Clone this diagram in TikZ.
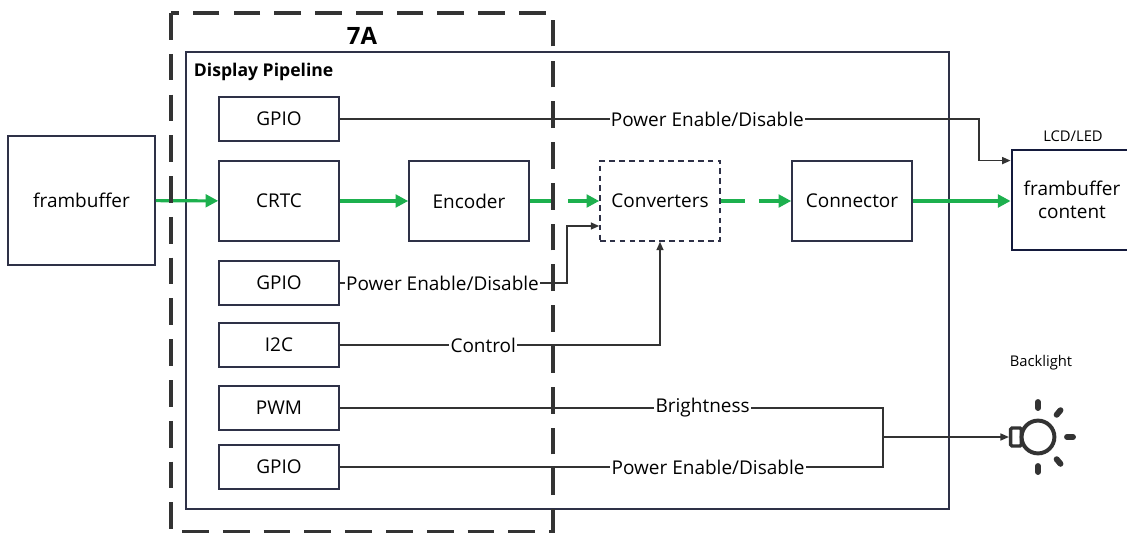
\documentclass[tikz,border=0pt]{standalone}
\usepackage{fontspec}
\setmainfont{Open Sans}
\usepackage{tikz}
\usetikzlibrary{positioning,calc,arrows.meta}
\definecolor{boxline}{HTML}{2E3147}
\definecolor{navybox}{HTML}{141A3C}
\definecolor{flowgreen}{HTML}{1DB04E}
\definecolor{wirecol}{HTML}{333333}

\begin{document}
\begin{tikzpicture}[x=0.025cm, y=-0.025cm,
  every node/.style={font=\fontsize{13.5}{16}\selectfont},
  block/.style={draw=boxline, line width=1.1pt, minimum width=3cm, minimum height=1.1cm, inner sep=0pt},
  tall/.style={block, minimum height=2cm},
  flow/.style={draw=flowgreen, line width=2.2pt, -{Triangle[length=9pt,width=9pt]}},
  flowdash/.style={flow, dash pattern=on 17pt off 10pt on 40pt off 0pt},
  wire/.style={draw=wirecol, line width=1pt},
  sig/.style={wire, -{Triangle[length=6pt,width=5pt]}},
  lbl/.style={fill=white, inner sep=1pt},
  small/.style={font=\fontsize{10.5}{12}\selectfont},
  ray/.style={draw=wirecol, line width=4.2pt, line cap=round}]

  \useasboundingbox (0,0) rectangle (1127,533);

  % outer pipeline box
  \draw[boxline, line width=1.1pt] (186,52) rectangle (949,509);
  \node[font=\bfseries\fontsize{12.5}{15}\selectfont, anchor=west] (dp) at (189,72) {Display Pipeline};

  \node[block, minimum width=3.675cm, minimum height=3.225cm] (fb) at (81.5,200.5) {frambuffer};
  \node[block] (gpioa) at (279,119) {GPIO};
  \node[tall] (crtc) at (279,201) {CRTC};
  \node[tall] (enc) at (469,201) {Encoder};
  \node[tall, dash pattern=on 4pt off 3pt] (conv) at (660,201) {Converters};
  \node[tall] (conn) at (852,201) {Connector};
  \node[block] (gpiob) at (279,283) {GPIO};
  \node[block] (i2c) at (279,345) {I2C};
  \node[block] (pwm) at (279,408) {PWM};
  \node[block] (gpioc) at (279,467) {GPIO};

  \node[draw=navybox, line width=2pt, minimum width=3cm, minimum height=2.5cm, align=center] (lcd) at (1072,200) {frambuffer\\content};
  \node[small] (lcdlbl) at (1073,136) {LCD/LED};
  \node[small] (bllbl) at (1041,363) {Backlight};

  % backlight bulb
  \node[draw=wirecol, line width=2.4pt, rounded corners=1pt, minimum width=0.27cm, minimum height=0.45cm, inner sep=0pt] (bulbbase) at (1016,437) {};
  \node[circle, draw=wirecol, fill=white, line width=2.8pt, minimum size=0.82cm, inner sep=0pt] (bulb) at (1038,437) {};
  \foreach \a in {90,50,0,-50,-90}
    \draw[ray] ($(bulb)+(\a:29)$) -- ($(bulb)+(\a:35)$);

  % video path
  \draw[flow] (fb) -- (crtc);
  \draw[flow] (crtc) -- (enc);
  \draw[flowdash] (enc) -- (conv);
  \draw[flowdash] (conv) -- (conn);
  \draw[flow] (conn.east) -- (conn.east -| lcd.west);

  % control signals
  \coordinate (lcdknee) at (979,119);
  \draw[sig] (gpioa.east) -- node[lbl, pos=0.575]{Power Enable/Disable} (lcdknee) |- ($(lcd.north west)+(0,12)$);
  \coordinate (convknee) at (567,283);
  \draw[sig] (gpiob.east) -- node[lbl, pos=0, anchor=west, xshift=3pt]{Power Enable/Disable} (convknee) |- ($(conv.west)+(0,25)$);
  \draw[sig] (i2c.east) -| node[lbl, pos=0.224]{Control} (conv.south);

  \coordinate (merge) at (883,437);
  \draw[wire] (pwm.east) -- node[lbl, pos=0.668]{Brightness} (pwm.east -| merge) -- (merge);
  \draw[wire] (gpioc.east) -- node[lbl, pos=0.678]{Power Enable/Disable} (gpioc.east -| merge) -- (merge);
  \draw[sig] (merge) -- (bulbbase.west);

  % 7A region
  \node[font=\bfseries\fontsize{17}{20}\selectfont] (sevena) at (362,36) {7A};
  \draw[wirecol, line width=2.6pt, dash pattern=on 19pt off 10pt] (171,13) rectangle (553,532);
\end{tikzpicture}
\end{document}
